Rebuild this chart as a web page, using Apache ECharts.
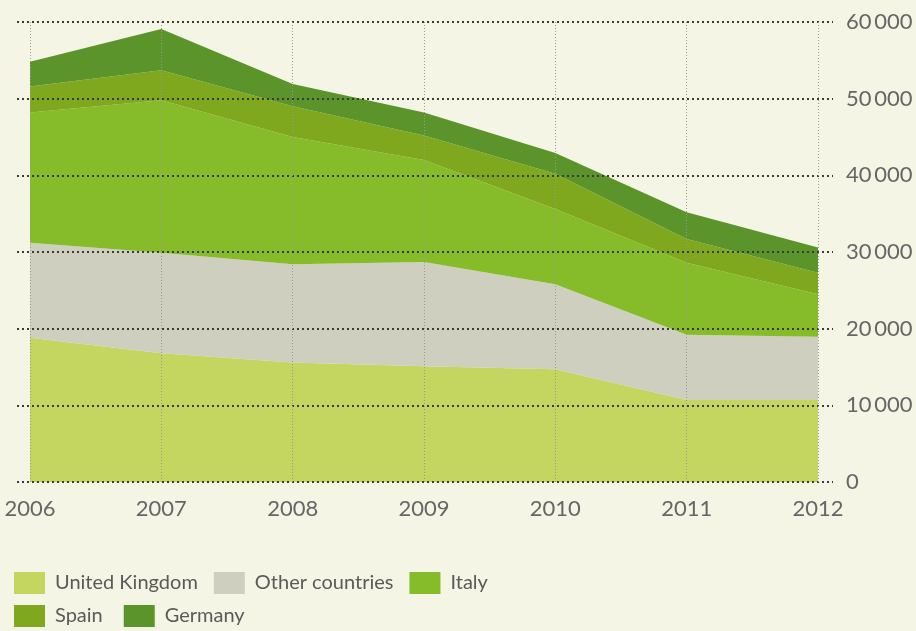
<!DOCTYPE html>
<html>
<head>
<meta charset="utf-8">
<script src="https://cdn.jsdelivr.net/npm/echarts@6/dist/echarts.min.js"></script>
<style>
  html, body { margin: 0; padding: 0; background: #f4f5e4; }
  #chart { width: 916px; height: 631px; }
</style>
</head>
<body>
<div id="chart"></div>
<script>
const years = ['2006', '2007', '2008', '2009', '2010', '2011', '2012'];

// values (stacked from bottom to top)
const unitedKingdom = [18800, 16800, 15600, 15100, 14700, 10700, 10700];
const otherCountries = [12400, 13100, 12800, 13600, 11100, 8500, 8250];
const italy = [17000, 19900, 16600, 13300, 9800, 9400, 5550];
const spain = [3400, 3900, 4000, 3200, 4600, 3100, 2800];
const germany = [3200, 5400, 2900, 3000, 2700, 3500, 3300];

const colors = {
    'United Kingdom': '#c4d660',
    'Other countries': '#cfcfbf',
    'Italy': '#86bb29',
    'Spain': '#7fa81f',
    'Germany': '#5a942a'
};

const font = 'Lato, "Open Sans", sans-serif';

function area(name, data) {
    return {
        name: name,
        type: 'line',
        stack: 'total',
        xAxisIndex: 1,
        yAxisIndex: 1,
        data: data,
        symbol: 'none',
        lineStyle: { width: 0 },
        itemStyle: { color: colors[name] },
        areaStyle: { color: colors[name], opacity: 1 }
    };
}

const chart = echarts.init(document.getElementById('chart'));

const legendText = { color: '#5a5a5a', fontSize: 20, fontFamily: font, padding: [0, 0, 0, 5] };

chart.setOption({
    backgroundColor: '#f4f5e4',
    animation: false,
    grid: [
        // wider grid only for the horizontal dotted lines and right labels
        { left: 17, right: 83, top: 22, bottom: 149 },
        { left: 30, right: 98, top: 22, bottom: 149 }
    ],
    legend: [
        {
            data: ['United Kingdom', 'Other countries', 'Italy'],
            left: 14, top: 572, padding: 0,
            icon: 'rect', itemWidth: 31, itemHeight: 22, itemGap: 16,
            itemStyle: { borderWidth: 0 },
            textStyle: legendText
        },
        {
            data: ['Spain', 'Germany'],
            left: 14, top: 605, padding: 0,
            icon: 'rect', itemWidth: 31, itemHeight: 22, itemGap: 21,
            itemStyle: { borderWidth: 0 },
            textStyle: legendText
        }
    ],
    xAxis: [
        { gridIndex: 0, type: 'category', data: years, show: false },
        {
            gridIndex: 1,
            type: 'category',
            data: years,
            boundaryGap: false,
            z: 10,
            axisLine: { show: false },
            axisTick: { show: false },
            axisLabel: { color: '#666', fontSize: 22, fontFamily: font, margin: 16 },
            splitLine: { show: true, lineStyle: { color: '#9a9a90', type: [1, 2], width: 1 } }
        }
    ],
    yAxis: [
        {
            gridIndex: 0,
            type: 'value',
            position: 'right',
            min: 0, max: 60000, interval: 10000,
            z: 10,
            axisLine: { show: false },
            axisTick: { show: false },
            axisLabel: {
                color: '#666', fontSize: 22, fontFamily: font, margin: 13,
                formatter: v => v >= 1000 ? String(v / 1000) + '\u2009000' : String(v)
            },
            splitLine: { lineStyle: { color: '#3a3a36', type: [2, 3], width: 2 } }
        },
        { gridIndex: 1, type: 'value', min: 0, max: 60000, show: false }
    ],
    series: [
        area('United Kingdom', unitedKingdom),
        area('Other countries', otherCountries),
        area('Italy', italy),
        area('Spain', spain),
        area('Germany', germany)
    ]
});
</script>
</body>
</html>
